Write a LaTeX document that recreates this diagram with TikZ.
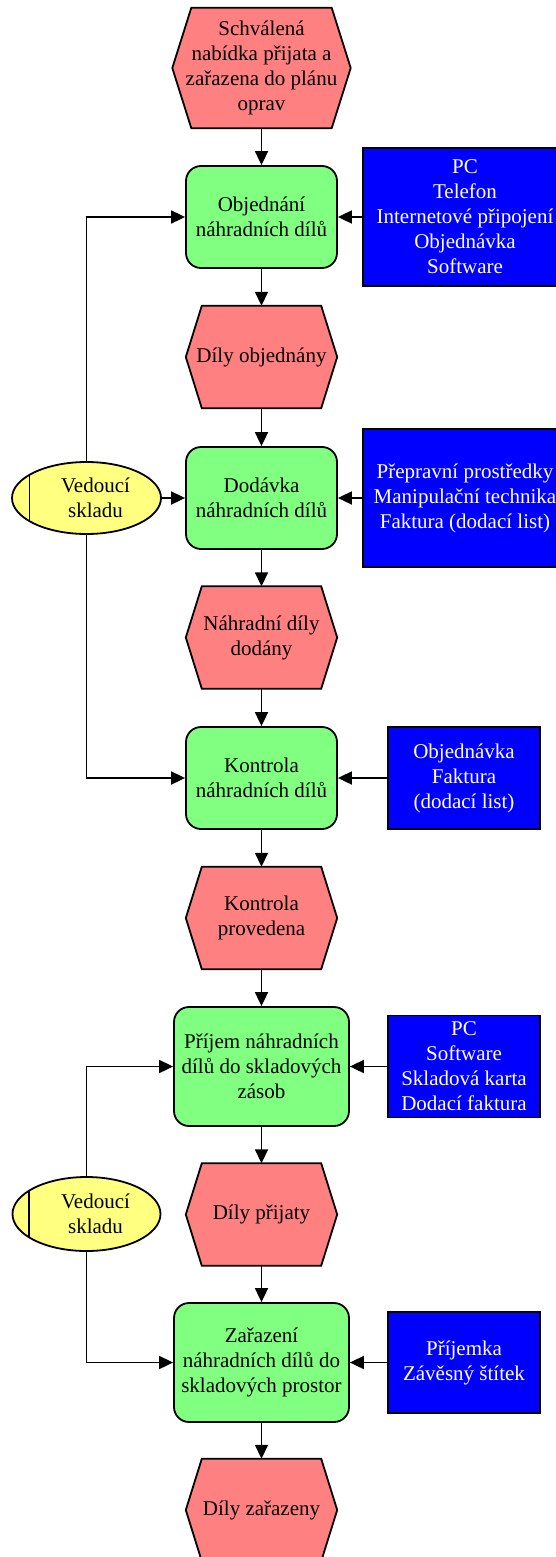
\documentclass[tikz,border=0pt]{standalone}
\usepackage{fontspec}
\setmainfont{Liberation Serif}
\usetikzlibrary{shapes.geometric,arrows.meta,backgrounds,calc}

\definecolor{evred}{HTML}{FF8080}
\definecolor{fngreen}{HTML}{80FF80}
\definecolor{resblue}{HTML}{0000FF}
\definecolor{orgyellow}{HTML}{FFFF80}

\tikzset{
  lbl/.style={font=\fontsize{21}{25}\selectfont, align=center, inner sep=0pt},
  hexbox/.style={lbl, rectangle, draw=none},
  hexline/.style={draw=black, line width=1.8pt, fill=evred, line join=miter},
  fnbox/.style={lbl, rectangle, rounded corners=15pt, draw=black, line width=1.8pt, fill=fngreen},
  resbox/.style={lbl, rectangle, draw=black, line width=1.8pt, fill=resblue, text=white},
  orgbox/.style={ellipse, draw=black, line width=1.8pt, fill=orgyellow, inner sep=0pt},
  flow/.style={line width=1.8pt, -{Triangle[length=14pt,width=13pt]}},
  bar/.style={line width=1.8pt},
}

% event node: hexagon with flat top and bottom, pointed left and right
% #1 name, #2 position, #3 width, #4 height, #5 inset of the top edge, #6 text
\newcommand{\evnode}[6]{%
  \node[hexbox, minimum width=#3pt, minimum height=#4pt] (#1) at #2 {#6};
  \begin{scope}[on background layer]
    \path[hexline] (#1.west) -- ([xshift=#5pt]#1.north west)
      -- ([xshift=-#5pt]#1.north east) -- (#1.east)
      -- ([xshift=-#5pt]#1.south east) -- ([xshift=#5pt]#1.south west) -- cycle;
  \end{scope}}

\begin{document}
\begin{tikzpicture}[x=1pt, y=-1pt]
  \useasboundingbox (0,0) rectangle (556,1557);
  \clip (0,0) rectangle (556,1557);

  % events
  \evnode{h1}{(261.5,68)}{178}{120}{19}{Schválená\\nabídka přijata a\\zařazena do plánu\\oprav}
  \evnode{h2}{(261.5,357)}{151}{102}{16}{Díly objednány}
  \evnode{h3}{(261.5,637.5)}{151}{102}{16}{Náhradní díly\\dodány}
  \evnode{h4}{(261.5,918)}{151}{102}{16}{Kontrola\\provedena}
  \evnode{h5}{(261.5,1214.5)}{151}{102}{16}{Díly přijaty}
  \evnode{h6}{(261.5,1510)}{151}{102}{16}{Díly zařazeny}

  % functions
  \node[fnbox, minimum width=151pt, minimum height=102pt] (g1) at (261.5,217) {Objednání\\náhradních dílů};
  \node[fnbox, minimum width=151pt, minimum height=102pt] (g2) at (261.5,498) {Dodávka\\náhradních dílů};
  \node[fnbox, minimum width=151pt, minimum height=102pt] (g3) at (261.5,778) {Kontrola\\náhradních dílů};
  \node[fnbox, minimum width=175pt, minimum height=119pt] (g4) at (261.5,1066.5) {Příjem náhradních\\dílů do skladových\\zásob};
  \node[fnbox, minimum width=175pt, minimum height=119pt] (g5) at (261.5,1362.5) {Zařazení\\náhradních dílů do\\skladových prostor};

  % resources
  \node[resbox, minimum width=204pt, minimum height=138pt] (b1) at (465,217) {PC\\Telefon\\Internetové připojení\\Objednávka\\Software};
  \node[resbox, minimum width=204pt, minimum height=138pt] (b2) at (465,498) {Přepravní prostředky\\Manipulační technika\\Faktura (dodací list)};
  \node[resbox, minimum width=152pt, minimum height=102pt] (b3) at (464,778) {Objednávka\\Faktura\\(dodací list)};
  \node[resbox, minimum width=152pt, minimum height=102pt] (b4) at (464,1066.5) {PC\\Software\\Skladová karta\\Dodací faktura};
  \node[resbox, minimum width=152pt, minimum height=101pt] (b5) at (464,1362.5) {Příjemka\\Závěsný štítek};

  % organisational units
  \node[orgbox, minimum width=149pt, minimum height=72pt] (e1) at (86.5,498) {};
  \draw[bar] (e1.157) -- (e1.203);
  \node[lbl] (e1t) at ([xshift=9pt]e1.center) {Vedoucí\\skladu};
  \node[orgbox, minimum width=148pt, minimum height=74pt] (e2) at (86.5,1214) {};
  \draw[bar] (e2.157) -- (e2.203);
  \node[lbl] (e2t) at ([xshift=9pt]e2.center) {Vedoucí\\skladu};

  % control flow
  \draw[flow] (h1.south) -- (g1.north);
  \draw[flow] (g1.south) -- (h2.north);
  \draw[flow] (h2.south) -- (g2.north);
  \draw[flow] (g2.south) -- (h3.north);
  \draw[flow] (h3.south) -- (g3.north);
  \draw[flow] (g3.south) -- (h4.north);
  \draw[flow] (h4.south) -- (g4.north);
  \draw[flow] (g4.south) -- (h5.north);
  \draw[flow] (h5.south) -- (g5.north);
  \draw[flow] (g5.south) -- (h6.north);

  % resource links
  \draw[flow] (b1.west) -- (g1.east);
  \draw[flow] (b2.west) -- (g2.east);
  \draw[flow] (b3.west) -- (g3.east);
  \draw[flow] (b4.west) -- (g4.east);
  \draw[flow] (b5.west) -- (g5.east);

  % organisational links
  \draw[flow] (e1.north) |- (g1.west);
  \draw[flow] (e1.east) -- (g2.west);
  \draw[flow] (e1.south) |- (g3.west);
  \draw[flow] (e2.north) |- (g4.west);
  \draw[flow] (e2.south) |- (g5.west);
\end{tikzpicture}
\end{document}
